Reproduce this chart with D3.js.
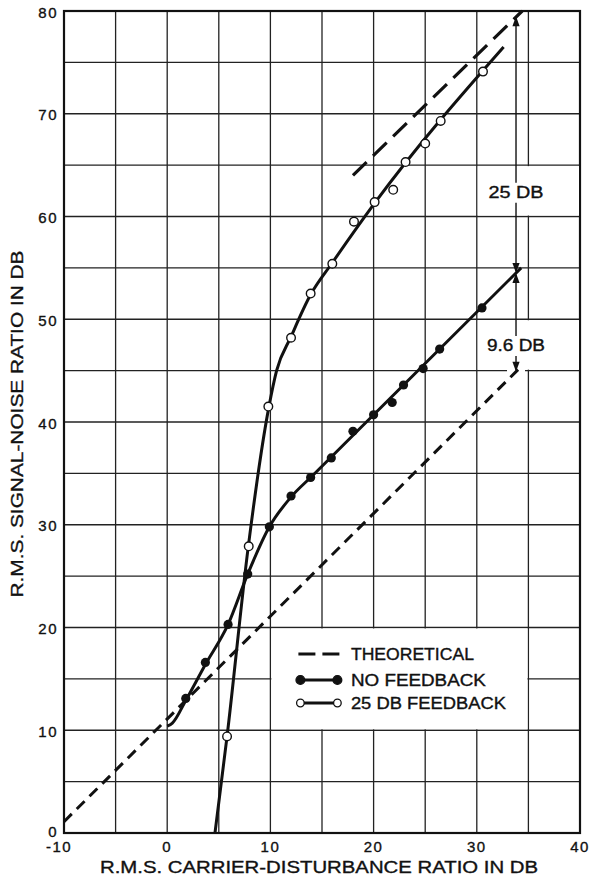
<!DOCTYPE html>
<html>
<head>
<meta charset="utf-8">
<script src="https://cdn.jsdelivr.net/npm/d3@7"></script>
<style>
  html, body { margin: 0; padding: 0; background: #fff; }
  svg { display: block; }
  text { font-family: "Liberation Sans", Arial, sans-serif; fill: #111; stroke: #111; stroke-width: 0.35px; }
</style>
</head>
<body>
<svg id="chart" width="592" height="877"></svg>
<script>
// Axis ranges, grid and tick labels (dB)
const xDomain = [-10, 40];
const yDomain = [0, 80];
const xGridValues = d3.range(-10, 41, 5);
const yGridValues = d3.range(0, 81, 5);
const xTickLabels = [-10, 0, 10, 20, 30, 40];
const yTickLabels = [0, 10, 20, 30, 40, 50, 60, 70, 80];

// Theoretical lines (carrier-disturbance dB, signal-noise dB)
const theoreticalLower = [[-10, 1.1], [34.0, 45.1]];
const theoreticalUpper = [[18.0, 64.0], [34.4, 80.0]];

// Measured points, no feedback
const noFeedbackPoints = [
  [1.8, 13.1], [3.7, 16.6], [5.9, 20.3], [7.8, 25.2], [9.9, 29.8],
  [12.0, 32.8], [13.9, 34.6], [15.9, 36.5], [18.0, 39.1], [20.0, 40.7],
  [21.8, 41.9], [22.9, 43.6], [24.8, 45.2], [26.4, 47.1], [30.5, 51.1]
];
// Faired curve through the no-feedback points
const noFeedbackCurve = [
  [0, 10.4], [0.5, 10.7], [1.8, 12.9], [3.7, 16.4], [5.9, 20.3],
  [7.8, 25.2], [9.9, 29.8], [12.0, 32.7], [14.0, 34.7], [34.3, 55.0]
];

// Measured points, 25 dB feedback
const feedbackPoints = [
  [5.8, 9.4], [7.9, 27.9], [9.8, 41.5], [12.0, 48.2], [13.9, 52.5],
  [16.0, 55.4], [18.1, 59.5], [20.1, 61.4], [21.9, 62.6], [23.1, 65.3],
  [25.0, 67.1], [26.5, 69.3], [30.6, 74.1]
];
// Faired curve through the feedback points
const feedbackCurve = [
  [4.63, 0], [5.8, 9.4], [7.86, 27.9], [9.84, 41.4], [10.6, 45.0],
  [12.0, 48.3], [13.9, 52.4], [16.0, 55.5], [20.1, 61.3], [32.6, 76.5]
];

// Dimension arrows: base level on the theoretical line, then the stated gains
const dimX = 33.8;
const dimBase = 44.9;
const dimGains = [9.6, 25];
const dimLabels = ["9.6 DB", "25 DB"];
const dimLabelY = [47.4, 62.3];

const legendItems = [
  { label: "THEORETICAL", kind: "dash", width: 123 },
  { label: "NO FEEDBACK", kind: "filled", width: 135 },
  { label: "25 DB FEEDBACK", kind: "open", width: 155 }
];

const svg = d3.select("#chart");
const x = d3.scaleLinear().domain(xDomain).range([64, 580]);
const y = d3.scaleLinear().domain(yDomain).range([833, 11]);
const ink = "#111";

// Grid
const grid = svg.append("g").attr("stroke", "#222").attr("stroke-width", 1.3);
grid.selectAll("line.v").data(xGridValues).join("line")
  .attr("x1", d => x(d)).attr("x2", d => x(d))
  .attr("y1", y(yDomain[0])).attr("y2", y(yDomain[1]));
grid.selectAll("line.h").data(yGridValues).join("line")
  .attr("x1", x(xDomain[0])).attr("x2", x(xDomain[1]))
  .attr("y1", d => y(d)).attr("y2", d => y(d));

// Frame
svg.append("rect")
  .attr("x", x(xDomain[0])).attr("y", y(yDomain[1]))
  .attr("width", x(xDomain[1]) - x(xDomain[0]))
  .attr("height", y(yDomain[0]) - y(yDomain[1]))
  .attr("fill", "none").attr("stroke", ink).attr("stroke-width", 2.2);

// White panels for the legend and dimension labels
const masks = svg.append("g").attr("fill", "#fff");
masks.append("rect")
  .attr("x", x(10) + 1).attr("y", y(20) + 1)
  .attr("width", x(35) - x(10) - 2).attr("height", y(10) - y(20) - 2);
[[60, 65], [45, 50]].forEach(([lo, hi]) => {
  masks.append("rect")
    .attr("x", x(30) + 1).attr("y", y(hi) + 1)
    .attr("width", x(40) - x(30) - 2).attr("height", y(lo) - y(hi) - 2);
});
// small breaks in the grid where the arrow tips sit
[dimBase, dimBase + dimGains[0]].forEach(v => {
  masks.append("rect")
    .attr("x", x(dimX) - 9).attr("y", y(v) - 3)
    .attr("width", 18).attr("height", 6);
});

// Theoretical lines
const straight = d3.line().x(d => x(d[0])).y(d => y(d[1]));
svg.append("path").datum(theoreticalLower)
  .attr("d", straight).attr("fill", "none").attr("stroke", ink)
  .attr("stroke-width", 3).attr("stroke-dasharray", "11,7");
svg.append("path").datum(theoreticalUpper)
  .attr("d", straight).attr("fill", "none").attr("stroke", ink)
  .attr("stroke-width", 3.2).attr("stroke-dasharray", "19,9");

// Faired curves
const smooth = d3.line().x(d => x(d[0])).y(d => y(d[1])).curve(d3.curveMonotoneX);
svg.append("path").datum(noFeedbackCurve)
  .attr("d", smooth).attr("fill", "none").attr("stroke", ink).attr("stroke-width", 3);
svg.append("path").datum(feedbackCurve)
  .attr("d", smooth).attr("fill", "none").attr("stroke", ink).attr("stroke-width", 3);

// Markers
svg.append("g").selectAll("circle").data(noFeedbackPoints).join("circle")
  .attr("cx", d => x(d[0])).attr("cy", d => y(d[1])).attr("r", 4.6)
  .attr("fill", ink);
svg.append("g").selectAll("circle").data(feedbackPoints).join("circle")
  .attr("cx", d => x(d[0])).attr("cy", d => y(d[1])).attr("r", 4.3)
  .attr("fill", "#fff").attr("stroke", ink).attr("stroke-width", 1.4);

// Dimension arrows
function arrowHead(g, px, py, dir) {
  // dir = -1 points up, +1 points down
  const len = 10, half = 3.6;
  g.append("path")
    .attr("d", `M${px},${py} L${px - half},${py - dir * len} L${px + half},${py - dir * len} Z`)
    .attr("fill", ink);
}
const dim = svg.append("g").attr("stroke", ink).attr("stroke-width", 1.4);
const levels = [dimBase, dimBase + dimGains[0], dimBase + dimGains[0] + dimGains[1]];
for (let i = 0; i < 2; i++) {
  const lo = levels[i], hi = levels[i + 1];
  const py = y(dimLabelY[i]);
  const gapTop = py - 10, gapBot = py + 10;
  dim.append("line").attr("x1", x(dimX)).attr("x2", x(dimX))
    .attr("y1", y(hi) + 2).attr("y2", gapTop);
  dim.append("line").attr("x1", x(dimX)).attr("x2", x(dimX))
    .attr("y1", gapBot).attr("y2", y(lo) - 2);
  const heads = svg.append("g");
  arrowHead(heads, x(dimX), y(hi), -1);
  arrowHead(heads, x(dimX), y(lo), 1);
  svg.append("text")
    .attr("x", x(dimX)).attr("y", py)
    .attr("text-anchor", "middle").attr("dominant-baseline", "central")
    .attr("font-size", 16)
    .attr("textLength", i === 0 ? 58 : 55).attr("lengthAdjust", "spacingAndGlyphs")
    .text(dimLabels[i]);
}

// Legend
const lg = svg.append("g").attr("transform", `translate(${x(10)},${y(20)})`);
const rowY = [26.5, 52.5, 75.5];
legendItems.forEach((item, i) => {
  const ry = rowY[i];
  if (item.kind === "dash") {
    lg.append("line").attr("x1", 28).attr("x2", 69).attr("y1", ry).attr("y2", ry)
      .attr("stroke", ink).attr("stroke-width", 3.2).attr("stroke-dasharray", "17,7");
  } else {
    lg.append("line").attr("x1", 30).attr("x2", 67).attr("y1", ry).attr("y2", ry)
      .attr("stroke", ink).attr("stroke-width", 3);
    [30, 67].forEach(cx => {
      lg.append("circle").attr("cx", cx).attr("cy", ry)
        .attr("r", item.kind === "filled" ? 4.4 : 3.8)
        .attr("fill", item.kind === "filled" ? ink : "#fff")
        .attr("stroke", ink).attr("stroke-width", 1.3);
    });
  }
  lg.append("text").attr("x", 80.5).attr("y", ry)
    .attr("dominant-baseline", "central").attr("font-size", 16)
    .attr("textLength", item.width).attr("lengthAdjust", "spacingAndGlyphs")
    .text(item.label);
});

// Tick labels
svg.append("g").selectAll("text").data(yTickLabels).join("text")
  .attr("x", 58).attr("y", d => y(d) + (d === 0 ? -2 : 1))
  .attr("text-anchor", "end").attr("dominant-baseline", "central")
  .attr("font-size", 15).attr("letter-spacing", 1.5)
  .text(d => d);
svg.append("g").selectAll("text").data(xTickLabels).join("text")
  .attr("x", d => x(d) + (d < 0 ? -5 : 0)).attr("y", 852)
  .attr("text-anchor", "middle")
  .attr("font-size", 15).attr("letter-spacing", 1.5)
  .text(d => d);

// Axis titles
svg.append("text")
  .attr("x", 319).attr("y", 873).attr("text-anchor", "middle")
  .attr("font-size", 17).attr("textLength", 438).attr("lengthAdjust", "spacingAndGlyphs")
  .text("R.M.S. CARRIER-DISTURBANCE RATIO IN DB");
svg.append("text")
  .attr("transform", "translate(23,424) rotate(-90)")
  .attr("text-anchor", "middle")
  .attr("font-size", 17).attr("textLength", 347).attr("lengthAdjust", "spacingAndGlyphs")
  .text("R.M.S. SIGNAL-NOISE RATIO IN DB");
</script>
</body>
</html>
